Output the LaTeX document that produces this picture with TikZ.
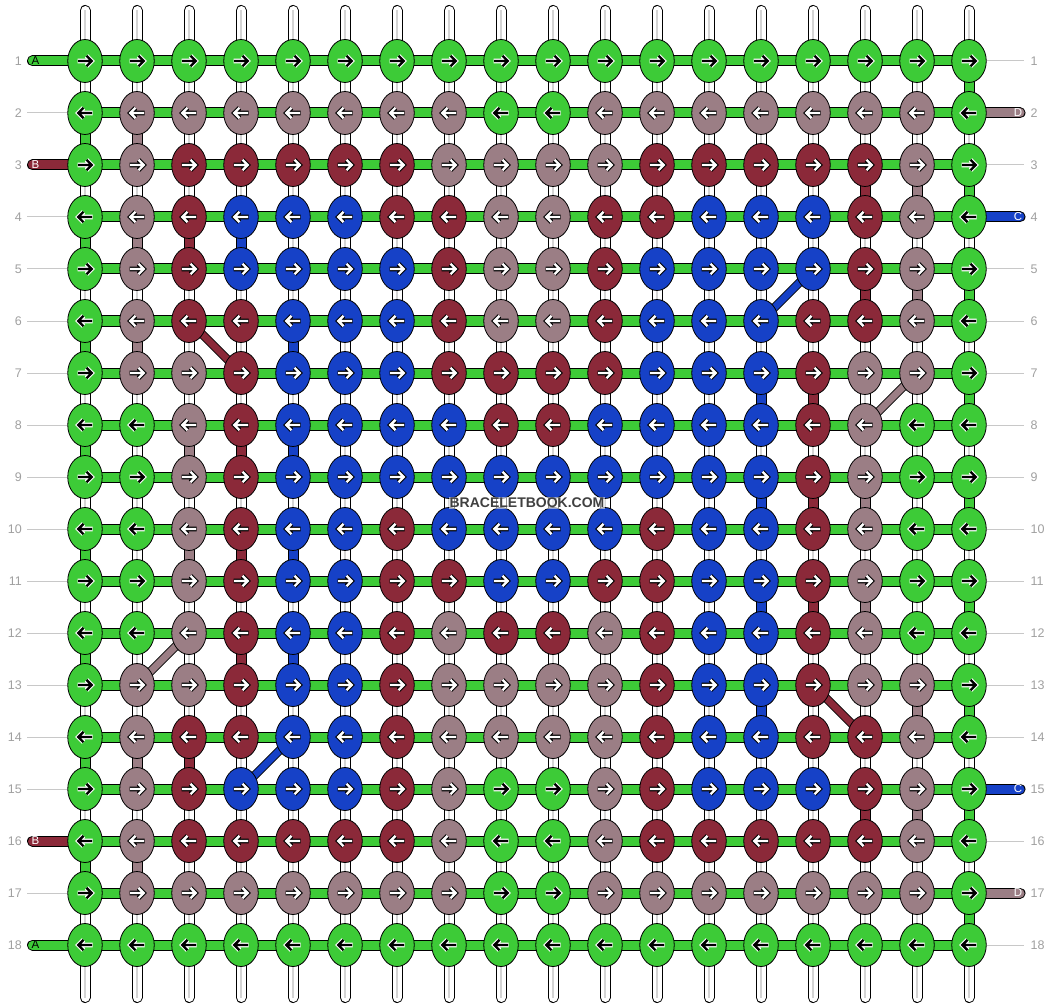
\documentclass[tikz,border=0pt]{standalone}
\usepackage{fontspec}
\setmainfont{Liberation Sans}
\usetikzlibrary{shapes.geometric}
\definecolor{kG}{HTML}{3DCB37}
\definecolor{kM}{HTML}{9B7E85}
\definecolor{kR}{HTML}{8B2939}
\definecolor{kB}{HTML}{1641C7}
\colorlet{aiG}{black}\colorlet{aoG}{white}
\colorlet{aiM}{white}\colorlet{aoM}{black}
\colorlet{aiR}{white}\colorlet{aoR}{black}
\colorlet{aiB}{white}\colorlet{aoB}{black}
\definecolor{numgray}{HTML}{A0A0A0}
\definecolor{guidegray}{HTML}{C8C8C8}
\definecolor{strline}{HTML}{D4D4D4}
\pgfdeclarelayer{paper}
\pgfdeclarelayer{strings}
\pgfdeclarelayer{segs}
\pgfsetlayers{paper,strings,segs,main}
\tikzset{
  knot/.style={ellipse, draw=black, line width=0.8pt, minimum width=34.5pt, minimum height=43pt, inner sep=0pt},
  band/.style={draw=black, line width=1pt, double=#1, double distance=9pt},
  diag/.style={draw=black, line width=0.9pt, double=#1, double distance=7pt},
  whitestring/.style={draw=black, line width=1pt, double=white, double distance=9pt, line cap=round},
  strcore/.style={draw=strline, line width=1.6pt},
  numlab/.style={text=numgray, font=\fontsize{12.5}{13}\selectfont, inner sep=0pt},
  guide/.style={draw=guidegray, line width=1pt},
  endlab/.style={font=\fontsize{11.5}{12}\selectfont, inner sep=0pt},
  arrowout/.style={line width=4.6pt, line join=miter},
  arrowin/.style={line width=2.4pt, line join=miter},
  wmark/.style={font=\bfseries\fontsize{14}{14}\selectfont, text=black!75, fill=white, fill opacity=0.55, text opacity=1, inner sep=1pt}
}
\begin{document}
\begin{tikzpicture}[x=1pt,y=-1pt]
\begin{pgfonlayer}{paper}
\fill[white] (0,0) rectangle (1052,1008);
\end{pgfonlayer}
\useasboundingbox (0,0) rectangle (1052,1008);
% knots
\foreach \rowlist [count=\r] in {
 {G,G,G,G,G,G,G,G,G,G,G,G,G,G,G,G,G,G},
 {G,M,M,M,M,M,M,M,G,G,M,M,M,M,M,M,M,G},
 {G,M,R,R,R,R,R,M,M,M,M,R,R,R,R,R,M,G},
 {G,M,R,B,B,B,R,R,M,M,R,R,B,B,B,R,M,G},
 {G,M,R,B,B,B,B,R,M,M,R,B,B,B,B,R,M,G},
 {G,M,R,R,B,B,B,R,M,M,R,B,B,B,R,R,M,G},
 {G,M,M,R,B,B,B,R,R,R,R,B,B,B,R,M,M,G},
 {G,G,M,R,B,B,B,B,R,R,B,B,B,B,R,M,G,G},
 {G,G,M,R,B,B,B,B,B,B,B,B,B,B,R,M,G,G},
 {G,G,M,R,B,B,R,B,B,B,B,R,B,B,R,M,G,G},
 {G,G,M,R,B,B,R,R,B,B,R,R,B,B,R,M,G,G},
 {G,G,M,R,B,B,R,M,R,R,M,R,B,B,R,M,G,G},
 {G,M,M,R,B,B,R,M,M,M,M,R,B,B,R,M,M,G},
 {G,M,R,R,B,B,R,M,M,M,M,R,B,B,R,R,M,G},
 {G,M,R,B,B,B,R,M,G,G,M,R,B,B,B,R,M,G},
 {G,M,R,R,R,R,R,M,G,G,M,R,R,R,R,R,M,G},
 {G,M,M,M,M,M,M,M,G,G,M,M,M,M,M,M,M,G},
 {G,G,G,G,G,G,G,G,G,G,G,G,G,G,G,G,G,G}} {
  \pgfmathtruncatemacro\d{1-2*mod(\r+1,2)}
  \foreach \col [count=\c] in \rowlist {
    \node[knot, fill=k\col] (k-\r-\c) at ({85+52*(\c-1)},{61+52*(\r-1)}) {};
    \draw[arrowout, draw=ao\col, shift={(k-\r-\c.center)}, xscale=\d] (-7.5,0) -- (5.5,0) (1.5,-5.2) -- (6.7,0) -- (1.5,5.2);
    \draw[arrowin, draw=ai\col, shift={(k-\r-\c.center)}, xscale=\d] (-7,0) -- (5.5,0) (1.5,-5.2) -- (6.7,0) -- (1.5,5.2);
  }
}
% white vertical strings
\begin{pgfonlayer}{strings}
\foreach \c in {1,...,18} {
  \coordinate (st-\c) at ({85+52*(\c-1)},10.5);
  \coordinate (sb-\c) at ({85+52*(\c-1)},997.5);
  \draw[whitestring] (st-\c) -- (sb-\c);
  \draw[strcore] (st-\c) -- (sb-\c);
}
\end{pgfonlayer}
\begin{pgfonlayer}{segs}
% horizontal green bars
\foreach \r in {1,...,18} {
  \foreach \c in {1,...,17} {
    \pgfmathtruncatemacro\cc{\c+1}
    \draw[band=kG] (k-\r-\c.center) -- (k-\r-\cc.center);
  }
}
% coloured vertical segments
\foreach \r/\c/\col in {2/1/G, 2/2/M,
  4/1/G, 4/2/M, 4/3/R, 4/4/B,
  6/1/G, 6/2/M, 6/5/B,
  8/1/G, 8/3/M, 8/4/R, 8/5/B,
  10/1/G, 10/3/M, 10/4/R, 10/5/B,
  12/1/G, 12/4/R, 12/5/B,
  14/1/G, 14/2/M, 14/3/R,
  16/1/G, 16/2/M,
  1/18/G,
  3/16/R, 3/17/M, 3/18/G,
  5/16/R, 5/17/M, 5/18/G,
  7/14/B, 7/15/R, 7/18/G,
  9/14/B, 9/15/R, 9/16/M, 9/18/G,
  11/14/B, 11/15/R, 11/16/M, 11/18/G,
  13/14/B, 13/17/M, 13/18/G,
  15/16/R, 15/17/M, 15/18/G,
  17/18/G} {
  \pgfmathtruncatemacro\rr{\r+1}
  \draw[band=k\col] (k-\r-\c.center) -- (k-\rr-\c.center);
}
% diagonals
\draw[diag=kR] (k-6-3.center) -- (k-7-4.center);
\draw[diag=kB] (k-5-15.center) -- (k-6-14.center);
\draw[diag=kM] (k-7-17.center) -- (k-8-16.center);
\draw[diag=kM] (k-12-3.center) -- (k-13-2.center);
\draw[diag=kB] (k-14-5.center) -- (k-15-4.center);
\draw[diag=kR] (k-13-15.center) -- (k-14-16.center);
% thread ends, left
\foreach \r/\col in {1/G, 3/R, 16/R, 18/G} {
  \coordinate (el-\r) at (32.5,{61+52*(\r-1)});
  \draw[band=k\col, line cap=round] (el-\r) -- (k-\r-1.center);
}
% thread ends, right
\foreach \r/\col in {2/M, 4/B, 15/B, 17/M} {
  \coordinate (er-\r) at (1020,{61+52*(\r-1)});
  \draw[band=k\col, line cap=round] (k-\r-18.center) -- (er-\r);
}
\end{pgfonlayer}
% end letters
\foreach \r/\lab/\tc in {1/A/black, 3/B/white, 16/B/white, 18/A/black} {
  \node[endlab, text=\tc] (la-\r) at (35.5,{61+52*(\r-1)}) {\lab};
}
\foreach \r/\lab in {2/D, 4/C, 15/C, 17/D} {
  \node[endlab, text=white] (ra-\r) at (1018,{61+52*(\r-1)}) {\lab};
}
% guide lines
\foreach \r in {2,4,5,6,7,8,9,10,11,12,13,14,15,17} {
  \coordinate (gl-\r) at (27,{61+52*(\r-1)});
  \draw[guide] (gl-\r) -- (k-\r-1);
}
\foreach \r in {1,3,5,6,7,8,9,10,11,12,13,14,16,18} {
  \coordinate (gr-\r) at (1024,{61+52*(\r-1)});
  \draw[guide] (k-\r-18) -- (gr-\r);
}
% row numbers
\foreach \r in {1,...,18} {
  \node[numlab, anchor=east] (nl-\r) at (22,{61+52*(\r-1)}) {\r};
  \node[numlab, anchor=west] (nr-\r) at (1030.5,{61+52*(\r-1)}) {\r};
}
\node[wmark] (wm) at (527,503) {BRACELETBOOK.COM};
\end{tikzpicture}
\end{document}
